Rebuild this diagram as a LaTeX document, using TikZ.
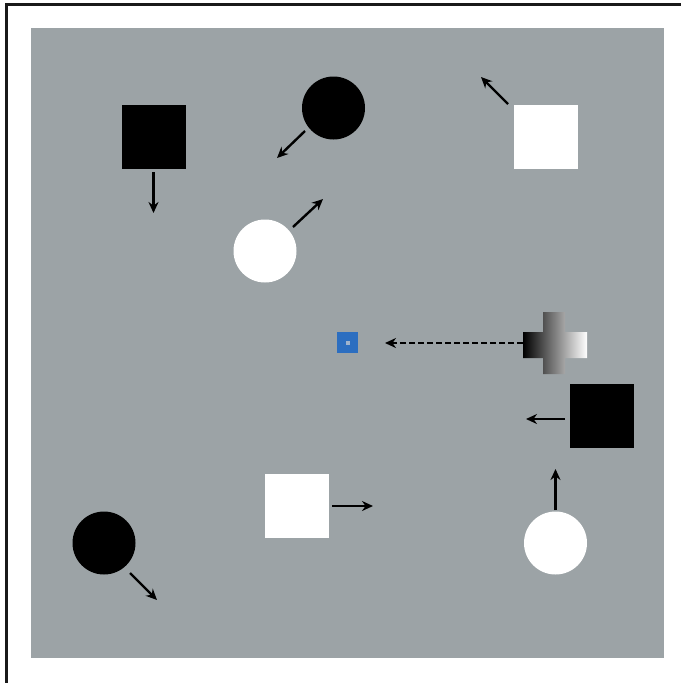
\documentclass[tikz,border=0pt]{standalone}
\usetikzlibrary{arrows.meta}
\definecolor{panelgray}{RGB}{156,163,166}
\definecolor{markerblue}{RGB}{44,110,192}
\definecolor{markercore}{RGB}{160,180,205}
\begin{document}
\begin{tikzpicture}[x=1pt,y=-1pt,
  motion/.style={line width=2.4pt,-{Stealth[length=11pt,width=10pt]}},
  blacksq/.style={rectangle,fill=black,minimum size=64pt,inner sep=0pt},
  whitesq/.style={rectangle,fill=white,minimum size=64pt,inner sep=0pt},
  blackdot/.style={circle,fill=black,minimum size=63pt,inner sep=0pt},
  whitedot/.style={circle,fill=white,minimum size=63pt,inner sep=0pt}]
\useasboundingbox (0,0) rectangle (681,683);
\fill[white] (0,0) rectangle (681,683);
% partial frame
\draw[line width=3pt,black!90] (5,4.5) -- (681,4.5);
\draw[line width=3pt,black!90] (6.5,4.5) -- (6.5,683);
% gray field
\fill[panelgray] (31,28) rectangle (664,658);

% objects
\node[blacksq] (bsq1) at (153.5,137) {};
\node[blackdot] (bdot1) at (333.5,108) {};
\node[whitesq] (wsq1) at (546,137) {};
\node[whitedot] (wdot1) at (265,251) {};
\node[blacksq] (bsq2) at (601.5,416) {};
\node[whitedot] (wdot2) at (555.5,543) {};
\node[whitesq] (wsq2) at (296.5,506) {};
\node[blackdot] (bdot2) at (104,543) {};

% target marker
\node[rectangle,fill=markerblue,minimum size=21pt,inner sep=0pt] (target) at (347.5,342.5) {};
\fill[markercore] (345.5,340.5) rectangle (349.5,344.5);

% shaded cross
\shade[left color=black,right color=white]
  (523,332) -- (543,332) -- (543,312) -- (565,312) -- (565,332) -- (587,332)
  -- (587,358) -- (565,358) -- (565,374) -- (543,374) -- (543,358) -- (523,358) -- cycle;
\coordinate (cross) at (523,343);

% arrow endpoints
\coordinate (a1s) at (153.5,172); \coordinate (a1) at (153.5,213);
\coordinate (a2s) at (305,131); \coordinate (a2) at (277,158);
\coordinate (a3s) at (508,104); \coordinate (a3) at (481,77);
\coordinate (a4s) at (293,227); \coordinate (a4) at (323,199);
\coordinate (a5s) at (565,419); \coordinate (a5) at (526,419);
\coordinate (a6s) at (555.5,510); \coordinate (a6) at (555.5,469);
\coordinate (a7s) at (332,506); \coordinate (a7) at (373,506);
\coordinate (a8s) at (130,573); \coordinate (a8) at (157,600);
\coordinate (tgt) at (385,343);

\draw[motion] (a1s) -- (a1);
\draw[motion] (a2s) -- (a2);
\draw[motion] (a3s) -- (a3);
\draw[motion] (a4s) -- (a4);
\draw[motion] (a5s) -- (a5);
\draw[motion] (a6s) -- (a6);
\draw[motion] (a7s) -- (a7);
\draw[motion] (a8s) -- (a8);
\draw[motion,dash pattern=on 6pt off 3pt] (cross) -- (tgt);
\end{tikzpicture}
\end{document}
